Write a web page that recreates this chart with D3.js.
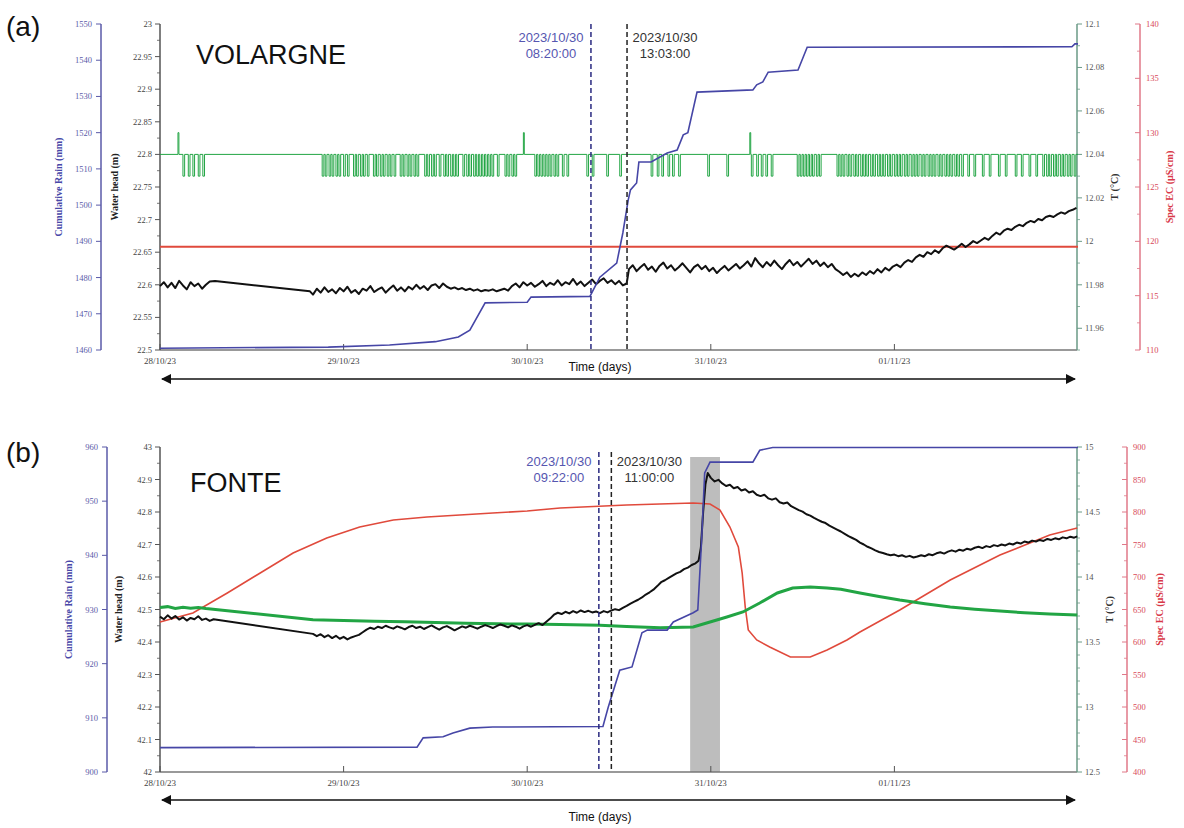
<!DOCTYPE html>
<html><head><meta charset="utf-8">
<script src="https://cdn.jsdelivr.net/npm/d3@7"></script>
<style>body{margin:0;background:#fff}text{font-family:"Liberation Serif",serif}</style>
</head><body>
<svg id="c" width="1184" height="828"></svg>
<script>
// ---------- DATA (time in hours since 28/10/23 00:00) ----------
const dayTicks = [0, 24, 48, 72, 96];
const dayLabels = ["28/10/23", "29/10/23", "30/10/23", "31/10/23", "01/11/23"];

// Panel (a) VOLARGNE
const rainA = [[0,1460.5],[22,1460.8],[30,1461.4],[36,1462.3],[39,1463.6],[40.5,1465.5],[42.5,1473.0],[48,1473.2],[48.5,1474.6],[56.2,1474.8],[57.5,1480.1],[59.7,1484.0],[60.5,1492.3],[61.2,1501.4],[61.5,1504.2],[62.3,1506.1],[62.6,1511.9],[64.2,1511.9],[66.3,1514.4],[67.6,1515.2],[68.4,1519.4],[69,1520],[70.2,1531.2],[77.5,1531.8],[78,1533.2],[78.8,1534],[79.5,1536.7],[83.4,1537.3],[84.6,1543.6],[119.2,1543.7],[119.6,1544.5],[120,1544.5]];
const ecA = [[0,119.5],[120,119.5]];
const tBaseA = 12.04;
const tDropValueA = 12.03;
const tSpikeValueA = 12.05;
const tDropsA = [3.0,3.7,4.3,5.0,5.6,
 21.2,21.6,22.1,22.5,23.0,23.4,24.0,24.5,25.3,25.7,26.2,26.6,27.1,27.9,28.3,28.8,29.2,29.7,30.1,30.6,31.4,31.8,32.3,32.7,33.2,33.6,
 34.6,35.0,35.5,35.9,36.5,37.1,37.5,38.0,38.4,38.8,
 39.6,40.1,40.5,41.0,41.4,41.8,42.2,42.6,43.0,43.4,44.1,45.1,45.5,46.0,46.4,
 49.0,49.4,49.8,50.2,50.6,51.0,51.5,51.9,52.6,53.2,55.8,56.5,58.4,60.1,
 64.2,65.0,65.6,66.4,67.0,67.8,71.6,74.1,77.3,78.0,78.6,79.2,79.9,
 83.3,83.7,84.1,84.5,84.9,85.3,85.8,86.2,
 88.5,88.9,89.3,89.8,90.2,90.7,91.1,91.6,92.0,92.4,92.9,93.3,93.8,94.2,94.6,95.1,95.5,96.0,96.4,96.8,97.3,97.7,98.2,98.6,99.0,99.5,99.9,100.4,100.8,101.2,101.7,102.1,102.6,103.0,103.4,103.9,104.3,104.8,
 105.6,106.4,107.5,108.4,109.6,110.5,111.8,112.6,113.6,114.5,
 115.4,115.9,116.3,116.8,117.2,117.7,118.1,118.6,119.0,119.5];
const tSpikesA = [2.35, 47.5, 77.1];
const headA = [[0,22.598],[0.5,22.604],[1,22.596],[1.5,22.603],[2,22.595],[2.5,22.606],[3,22.599],[3.5,22.593],[4,22.604],[4.5,22.598],[5,22.602],[5.5,22.594],[6,22.600],[6.5,22.605],[7.2,22.606],
 [19.6,22.590],[20,22.585],[20.5,22.594],[21,22.588],[21.5,22.596],[22,22.589],[22.5,22.593],[23,22.587],[23.5,22.595],[24,22.590],[24.5,22.597],[25,22.588],[25.5,22.592],[26,22.586],[26.5,22.594],[27,22.591],[27.5,22.598],[28,22.589],[28.5,22.593],[29,22.596],[29.5,22.588],[30,22.594],[30.5,22.599],[31,22.591],[31.5,22.596],[32,22.590],[32.5,22.597],[33,22.593],[33.5,22.600],[34,22.594],[34.5,22.598],[35,22.592],[35.5,22.599],[36,22.601],[36.5,22.595],[37,22.602],[37.5,22.597],[38,22.594],[38.5,22.596],[39,22.593],[39.5,22.595],[40,22.592],[40.5,22.594],[41,22.591],[41.5,22.593],[42,22.590],[42.5,22.592],[43,22.591],[43.5,22.593],[44,22.590],[44.5,22.592],[45,22.594],[45.5,22.591],[46,22.598],[46.5,22.602],[47,22.596],[47.5,22.604],[48,22.599],[48.5,22.603],[49,22.597],[49.5,22.601],[50,22.606],[50.5,22.598],[51,22.603],[51.5,22.600],[52,22.607],[52.5,22.599],[53,22.604],[53.5,22.601],[54,22.609],[54.5,22.600],[55,22.605],[55.5,22.598],[56,22.603],[56.5,22.608],[57,22.601],[57.5,22.606],[58,22.610],[58.5,22.603],[59,22.607],[59.5,22.601],[60,22.606],[60.5,22.599],[61,22.602],
 [61.3,22.624],[61.8,22.630],[62.3,22.621],[62.8,22.627],[63.3,22.632],[63.8,22.623],[64.3,22.628],[64.8,22.620],[65.3,22.629],[65.8,22.634],[66.3,22.625],[66.8,22.630],[67.3,22.622],[67.8,22.627],[68.3,22.633],[68.8,22.626],[69.3,22.619],[69.8,22.627],[70.3,22.631],[70.8,22.624],[71.3,22.629],[71.8,22.621],[72.3,22.626],[72.8,22.618],[73.3,22.624],[73.8,22.629],[74.3,22.622],[74.8,22.627],[75.3,22.632],[75.8,22.625],[76.3,22.630],[76.8,22.636],[77.3,22.628],[77.8,22.641],[78.3,22.633],[78.8,22.627],[79.3,22.635],[79.8,22.629],[80.3,22.637],[80.8,22.630],[81.3,22.624],[81.8,22.632],[82.3,22.638],[82.8,22.630],[83.3,22.635],[83.8,22.628],[84.3,22.634],[84.8,22.640],[85.3,22.632],[85.8,22.637],[86.3,22.629],[86.8,22.634],[87.3,22.627],[87.8,22.632],[88.3,22.624],[88.8,22.620],[89.3,22.615],[89.8,22.619],[90.3,22.612],[90.8,22.617],[91.3,22.613],[91.8,22.619],[92.3,22.615],[92.8,22.621],[93.3,22.617],[93.8,22.624],[94.3,22.619],[94.8,22.626],[95.3,22.622],[95.8,22.628],[96.3,22.631],[96.8,22.627],[97.3,22.634],[97.8,22.638],[98.3,22.635],[98.8,22.642],[99.3,22.646],[99.8,22.643],[100.3,22.650],[100.8,22.647],[101.3,22.653],[101.8,22.649],[102.3,22.656],[102.8,22.660],[103.3,22.657],[103.8,22.654],[104.3,22.658],[104.8,22.663],[105.3,22.658],[105.8,22.662],[106.3,22.667],[106.8,22.664],[107.3,22.668],[107.8,22.672],[108.3,22.669],[108.8,22.675],[109.3,22.680],[109.8,22.677],[110.3,22.683],[110.8,22.686],[111.3,22.684],[111.8,22.689],[112.3,22.692],[112.8,22.690],[113.3,22.695],[113.8,22.698],[114.3,22.696],[114.8,22.701],[115.3,22.699],[115.8,22.704],[116.3,22.706],[116.8,22.704],[117.3,22.708],[117.8,22.711],[118.3,22.709],[118.8,22.713],[119.3,22.715],[119.8,22.718]];

// Panel (b) FONTE
const rainB = [[0,904.5],[33.6,904.6],[34.4,906.3],[37,906.5],[38.3,907.2],[40.5,908.1],[43.5,908.3],[57.9,908.4],[58.6,912],[60.1,918.8],[61.7,919.4],[63,925.7],[63.7,926.2],[66.3,926.2],[67.1,927.7],[69.7,929.4],[70.3,929.9],[70.8,942.8],[71.2,955.2],[71.9,957.2],[77.5,957.2],[78.4,959.4],[80.1,959.9],[120,959.9]];
const ecB = [[0,630.8],[4.3,644.6],[8.8,675.4],[13.1,706.2],[17.4,736.9],[21.8,760],[26.1,776.9],[30.5,787.7],[34.9,792.3],[39.2,795.4],[43.5,798.5],[48,801.5],[52.3,806.2],[61,810.8],[69.7,813.8],[71.9,812.3],[73.2,803.1],[74.5,776.9],[75.6,746.2],[76.1,706.2],[76.5,653.8],[76.9,618.5],[78,603.1],[79.7,592.3],[82.4,576.9],[85,576.9],[87.2,587.7],[89.8,603.1],[91.5,615.4],[96.7,649.2],[103.3,695.4],[109.8,733.8],[116.3,764.6],[119.9,775.4]];
const tB = [[0,13.765],[1,13.772],[2,13.758],[3,13.768],[4,13.760],[5,13.766],[6,13.758],[20,13.672],[24,13.665],[28,13.66],[32,13.655],[36,13.65],[40,13.645],[44,13.64],[48,13.638],[52.3,13.634],[57.5,13.628],[61,13.62],[65.4,13.61],[69.7,13.615],[71.9,13.654],[74.1,13.692],[76.2,13.731],[78.4,13.80],[80.7,13.877],[82.7,13.915],[85,13.923],[87.2,13.915],[89,13.905],[91.5,13.877],[94,13.85],[96.7,13.823],[100,13.795],[103.3,13.769],[106.5,13.752],[109.8,13.738],[113,13.725],[116.3,13.715],[119.9,13.708]];
const headB = [[0,42.478],[0.5,42.470],[1,42.482],[1.5,42.472],[2,42.480],[2.5,42.469],[3,42.476],[3.5,42.466],[4,42.474],[4.5,42.470],[5,42.479],[5.5,42.468],[6,42.472],[6.5,42.465],[7,42.470],
 [20,42.425],[20.5,42.418],[21,42.424],[21.5,42.415],[22,42.421],[22.5,42.412],[23,42.419],[23.5,42.410],[24,42.416],[24.5,42.408],[25,42.414],[25.5,42.418],[26,42.422],[26.5,42.430],[27,42.438],[27.5,42.444],[28,42.440],[28.5,42.447],[29,42.443],[29.5,42.450],[30,42.445],[30.5,42.441],[31,42.448],[31.5,42.444],[32,42.439],[32.5,42.446],[33,42.450],[33.5,42.443],[34,42.447],[34.5,42.440],[35,42.446],[35.5,42.451],[36,42.444],[36.5,42.438],[37,42.445],[37.5,42.449],[38,42.443],[38.5,42.436],[39,42.442],[39.5,42.448],[40,42.444],[40.5,42.450],[41,42.446],[41.5,42.441],[42,42.447],[42.5,42.452],[43,42.448],[43.5,42.443],[44,42.449],[44.5,42.454],[45,42.450],[45.5,42.445],[46,42.451],[46.5,42.447],[47,42.441],[47.5,42.448],[48,42.452],[48.5,42.447],[49,42.453],[49.5,42.458],[50,42.452],[50.5,42.462],[51,42.472],[51.5,42.484],[52,42.490],[52.5,42.486],[53,42.493],[53.5,42.488],[54,42.495],[54.5,42.490],[55,42.497],[55.5,42.492],[56,42.496],[56.5,42.491],[57,42.494],[57.5,42.489],[58,42.495],[58.5,42.491],[59,42.497],[59.5,42.501],[60,42.498],[60.5,42.505],[61,42.511],[61.5,42.518],[62,42.524],[62.5,42.530],[63,42.537],[63.5,42.546],[64,42.553],[64.5,42.561],[65,42.572],[65.5,42.584],[66,42.590],[66.5,42.597],[67,42.604],[67.5,42.611],[68,42.616],[68.5,42.624],[69,42.629],[69.5,42.637],[70,42.642],[70.4,42.650],[70.7,42.690],[71.0,42.800],[71.3,42.885],[71.6,42.920],[72,42.905],[72.5,42.894],[73,42.899],[73.5,42.888],[74,42.880],[74.5,42.884],[75,42.873],[75.5,42.877],[76,42.866],[76.5,42.870],[77,42.860],[77.5,42.864],[78,42.853],[78.5,42.849],[79,42.853],[79.5,42.842],[80,42.838],[80.5,42.842],[81,42.830],[81.5,42.826],[82,42.829],[82.5,42.818],[83,42.812],[83.5,42.806],[84,42.801],[84.5,42.793],[85,42.789],[85.5,42.782],[86,42.776],[86.5,42.770],[87,42.766],[87.5,42.758],[88,42.752],[88.5,42.746],[89,42.740],[89.5,42.733],[90,42.726],[90.5,42.720],[91,42.714],[91.5,42.706],[92,42.700],[92.5,42.693],[93,42.688],[93.5,42.682],[94,42.677],[94.5,42.674],[95,42.670],[95.5,42.667],[96,42.669],[96.5,42.664],[97,42.667],[97.5,42.662],[98,42.665],[98.5,42.660],[99,42.663],[99.5,42.667],[100,42.664],[100.5,42.670],[101,42.667],[101.5,42.673],[102,42.676],[102.5,42.672],[103,42.678],[103.5,42.682],[104,42.678],[104.5,42.684],[105,42.681],[105.5,42.687],[106,42.684],[106.5,42.690],[107,42.693],[107.5,42.689],[108,42.695],[108.5,42.692],[109,42.698],[109.5,42.695],[110,42.700],[110.5,42.697],[111,42.703],[111.5,42.700],[112,42.706],[112.5,42.703],[113,42.709],[113.5,42.706],[114,42.712],[114.5,42.709],[115,42.714],[115.5,42.711],[116,42.717],[116.5,42.714],[117,42.719],[117.5,42.716],[118,42.722],[118.5,42.719],[119,42.724],[119.5,42.721],[119.9,42.725]];
const greyBandB = [69.3, 73.2];

// Annotation times (hours)
const eventsA = [{t: 56 + 20/60, date: "2023/10/30", time: "08:20:00", color: "#5656b0", line: "#2a2a80", side: "left"},
                 {t: 61 + 3/60,  date: "2023/10/30", time: "13:03:00", color: "#333", line: "#222", side: "right"}];
const eventsB = [{t: 57 + 22/60, date: "2023/10/30", time: "09:22:00", color: "#5656b0", line: "#2a2a80", side: "left"},
                 {t: 59,         date: "2023/10/30", time: "11:00:00", color: "#333", line: "#222", side: "right"}];

// Axis ticks
const rainTicksA = [1460,1470,1480,1490,1500,1510,1520,1530,1540,1550];
const headTicksA = [22.5,22.55,22.6,22.65,22.7,22.75,22.8,22.85,22.9,22.95,23];
const tTicksA = [11.96,11.98,12,12.02,12.04,12.06,12.08,12.1];
const ecTicksA = [110,115,120,125,130,135,140];
const rainTicksB = [900,910,920,930,940,950,960];
const headTicksB = [42,42.1,42.2,42.3,42.4,42.5,42.6,42.7,42.8,42.9,43];
const tTicksB = [12.5,13,13.5,14,14.5,15];
const ecTicksB = [400,450,500,550,600,650,700,750,800,850,900];

// ---------- DRAWING ----------
const SANS = '"Liberation Sans", Arial, sans-serif';
const svg = d3.select("#c");
const X0 = 160, X1 = 1077;
const x = d3.scaleLinear().domain([0, 120]).range([X0, 1078]);
const fmt = v => String(+v.toFixed(3));

const defs = svg.append("defs");
defs.append("marker").attr("id","ah2").attr("viewBox","0 0 10 10").attr("refX",9).attr("refY",5)
  .attr("markerWidth",16).attr("markerHeight",10).attr("markerUnits","userSpaceOnUse").attr("orient","auto-start-reverse")
  .append("path").attr("d","M0,0L10,5L0,10Z").attr("fill","#111");

function vAxis(g, scale, xPos, ticks, minorTicks, o) {
  const ax = g.append("g").attr("transform", `translate(${xPos},0)`);
  ax.append("line").attr("x1",0).attr("x2",0).attr("y1",scale.range()[1]).attr("y2",scale.range()[0])
    .attr("stroke", o.line).attr("stroke-width", 1.5);
  const dir = o.tickDir;
  ax.selectAll(".mj").data(ticks).join("line").attr("x1",0).attr("x2",dir*5)
    .attr("y1",d=>scale(d)).attr("y2",d=>scale(d)).attr("stroke",o.line).attr("stroke-width",1);
  ax.selectAll(".mn").data(minorTicks).join("line").attr("x1",0).attr("x2",dir*3)
    .attr("y1",d=>scale(d)).attr("y2",d=>scale(d)).attr("stroke",o.line).attr("stroke-width",0.8);
  ax.selectAll(".lb").data(ticks).join("text")
    .attr("x", o.labelDx).attr("y", d=>scale(d)+3)
    .attr("text-anchor", o.anchor).attr("font-size", 8.5).attr("fill", o.text).text(fmt);
  g.append("text").attr("transform", `translate(${o.titleX},${(scale.range()[0]+scale.range()[1])/2}) rotate(-90)`)
    .attr("text-anchor","middle").attr("font-size",10).attr("font-weight","bold").attr("fill",o.titleColor).text(o.title);
}
function minorsBetween(ticks, n) {
  const out = [];
  for (let i = 0; i < ticks.length - 1; i++)
    for (let k = 1; k < n; k++) out.push(ticks[i] + (ticks[i+1]-ticks[i]) * k / n);
  return out;
}

function panel(cfg) {
  const g = svg.append("g");
  const yR = d3.scaleLinear().domain(cfg.rainDom).range([cfg.bottom, cfg.top]);
  const yH = d3.scaleLinear().domain(cfg.headDom).range([cfg.bottom, cfg.top]);
  const yT = d3.scaleLinear().domain(cfg.tDom).range([cfg.bottom, cfg.top]);
  const yE = d3.scaleLinear().domain(cfg.ecDom).range([cfg.bottom, cfg.top]);

  if (cfg.band) g.append("rect").attr("x", x(cfg.band[0])).attr("width", x(cfg.band[1]) - x(cfg.band[0]))
      .attr("y", cfg.bandTop).attr("height", cfg.bottom - cfg.bandTop).attr("fill", "#bdbdbd");

  g.append("line").attr("x1",X0).attr("x2",X1).attr("y1",cfg.bottom).attr("y2",cfg.bottom).attr("stroke","#777").attr("stroke-width",1.5);

  g.selectAll(".xt").data(dayTicks).join("line").attr("x1",d=>x(d)).attr("x2",d=>x(d))
    .attr("y1",cfg.bottom).attr("y2",cfg.bottom-6).attr("stroke","#555");
  g.selectAll(".xl").data(dayTicks).join("text").attr("x",d=>x(d)).attr("y",cfg.bottom+14)
    .attr("text-anchor","middle").attr("font-size",9).attr("fill","#444").text((d,i)=>dayLabels[i]);

  vAxis(g, yR, cfg.rainX, cfg.rainTicks, [], {line:"#5a5aa8", text:"#5a5aa8", tickDir:-1, labelDx:-9, anchor:"end", titleX:cfg.rainTitleX, title:"Cumulative Rain (mm)", titleColor:"#4848a8"});
  vAxis(g, yH, X0, cfg.headTicks, minorsBetween(cfg.headTicks, 2), {line:"#555", text:"#444", tickDir:-1, labelDx:-8, anchor:"end", titleX:cfg.headTitleX, title:"Water head (m)", titleColor:"#222"});
  vAxis(g, yT, X1, cfg.tTicks, cfg.tMinor, {line:"#6a9a86", text:"#555", tickDir:1, labelDx:8, anchor:"start", titleX:cfg.tTitleX, title:"T (°C)", titleColor:"#333"});
  vAxis(g, yE, cfg.ecX, cfg.ecTicks, minorsBetween(cfg.ecTicks, 2), {line:"#e07888", text:"#d84858", tickDir:-1, labelDx:6, anchor:"start", titleX:cfg.ecTitleX, title:"Spec EC (µS/cm)", titleColor:"#d83848"});

  const ln = (ys) => d3.line().x(d=>x(d[0])).y(d=>ys(d[1]));
  g.append("path").datum(cfg.ec).attr("d", ln(yE)).attr("fill","none").attr("stroke","#e04a3c").attr("stroke-width",cfg.ecW);
  g.append("path").datum(cfg.t).attr("d", ln(yT)).attr("fill","none").attr("stroke","#22a544").attr("stroke-width",cfg.tW);
  g.append("path").datum(cfg.head).attr("d", ln(yH)).attr("fill","none").attr("stroke","#111").attr("stroke-width",cfg.headW).attr("stroke-linejoin","round");
  g.append("path").datum(cfg.rain).attr("d", ln(yR)).attr("fill","none").attr("stroke","#4646a6").attr("stroke-width",1.6);

  cfg.events.forEach(ev => {
    const xe = x(ev.t);
    g.append("line").attr("x1",xe).attr("x2",xe).attr("y1",cfg.evTop).attr("y2",cfg.bottom)
      .attr("stroke",ev.line).attr("stroke-width",1.5).attr("stroke-dasharray","5,3");
    const tx = ev.side === "left" ? xe - 40 : xe + 38;
    g.append("text").attr("x",tx).attr("y",cfg.evTextY).attr("text-anchor","middle")
      .style("font-family",SANS).attr("font-size",13).attr("fill",ev.color).text(ev.date);
    g.append("text").attr("x",tx).attr("y",cfg.evTextY+16).attr("text-anchor","middle")
      .style("font-family",SANS).attr("font-size",13).attr("fill",ev.color).text(ev.time);
  });

  g.append("text").attr("x",cfg.nameX).attr("y",cfg.nameY).style("font-family",SANS)
    .attr("font-size",27).attr("fill","#111").text(cfg.name);
  g.append("text").attr("x",6).attr("y",cfg.letterY).style("font-family",SANS)
    .attr("font-size",28).attr("fill","#111").text(cfg.letter);

  g.append("line").attr("x1",X0+2).attr("x2",X1-2).attr("y1",cfg.arrowY).attr("y2",cfg.arrowY)
    .attr("stroke","#111").attr("stroke-width",1.6).attr("marker-start","url(#ah2)").attr("marker-end","url(#ah2)");
  g.append("text").attr("x",600).attr("y",cfg.timeLabelY).attr("text-anchor","middle")
    .style("font-family",SANS).attr("font-size",12).attr("fill","#111").text("Time (days)");
}

// stepped T series for panel (a), built from the listed drop / spike times
function stepSeries(base, events) {
  const pts = [[0, base]];
  events.sort((a,b)=>a.t-b.t).forEach(e => {
    pts.push([e.t, base],[e.t, e.v],[e.t+e.w, e.v],[e.t+e.w, base]);
  });
  pts.push([120, base]);
  return pts;
}
const tA = stepSeries(tBaseA, tDropsA.map(t=>({t, v:tDropValueA, w:0.22})).concat(tSpikesA.map(t=>({t, v:tSpikeValueA, w:0.12}))));

panel({top:24, bottom:350, rainDom:[1460,1550], headDom:[22.5,23], tDom:[11.95,12.1], ecDom:[110,140],
  rainTicks:rainTicksA, headTicks:headTicksA, tTicks:tTicksA, tMinor:minorsBetween(tTicksA,2).concat([11.95]), ecTicks:ecTicksA,
  rainX:101, rainTitleX:62, headTitleX:118, tTitleX:1118, ecX:1140, ecTitleX:1173,
  rain:rainA, head:headA, t:tA, ec:ecA, ecW:2, tW:1, headW:2,
  events:eventsA, evTop:24, evTextY:42, name:"VOLARGNE", nameX:196, nameY:64, letter:"(a)", letterY:36,
  arrowY:379, timeLabelY:371});

panel({top:447, bottom:772, rainDom:[900,960], headDom:[42,43], tDom:[12.5,15], ecDom:[400,900],
  rainTicks:rainTicksB, headTicks:headTicksB, tTicks:tTicksB, tMinor:minorsBetween(tTicksB,5), ecTicks:ecTicksB,
  rainX:107, rainTitleX:72, headTitleX:122, tTitleX:1113, ecX:1127, ecTitleX:1163,
  rain:rainB, head:headB, t:tB, ec:ecB, ecW:1.6, tW:3, headW:2,
  band:greyBandB, bandTop:457,
  events:eventsB, evTop:452, evTextY:466, name:"FONTE", nameX:190, nameY:492, letter:"(b)", letterY:462,
  arrowY:800, timeLabelY:821});
</script>
</body></html>
